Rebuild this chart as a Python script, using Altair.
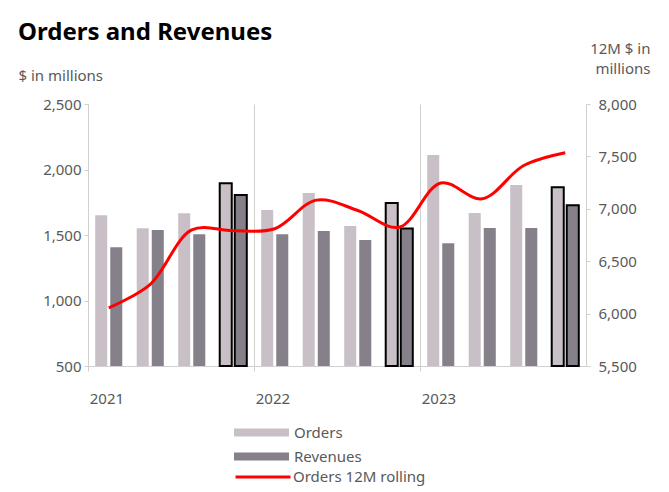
import altair as alt
import pandas as pd

quarters = ["2021 Q1", "2021 Q2", "2021 Q3", "2021 Q4",
            "2022 Q1", "2022 Q2", "2022 Q3", "2022 Q4",
            "2023 Q1", "2023 Q2", "2023 Q3", "2023 Q4"]
orders = [1650, 1551, 1666, 1895, 1691, 1821, 1569, 1745, 2111, 1668, 1882, 1865]
revenues = [1406, 1538, 1505, 1805, 1505, 1531, 1462, 1550, 1437, 1553, 1553, 1727]
rolling = [6055, 6280, 6798, 6791, 6810, 7083, 6984, 6824, 7247, 7096, 7413, 7535]
series = ["Orders", "Revenues"]
line_name = "Orders 12M rolling"
year_starts = ["2021 Q1", "2022 Q1", "2023 Q1"]

bars = pd.DataFrame({
    "q": quarters * 2,
    "series": ["Orders"] * len(quarters) + ["Revenues"] * len(quarters),
    "value": orders + revenues,
})
line = pd.DataFrame({"q": quarters, "value": rolling, "name": [line_name] * len(quarters)})

FONT = "Noto Sans"
LABEL = "#595959"
AXISC = "#d0d0d0"

xaxis = alt.Axis(values=year_starts, bandPosition=0, grid=True,
                 gridColor=AXISC, domainColor=AXISC, tickColor=AXISC,
                 tickSize=5, labelAngle=0, labelAlign="left", labelOffset=-19,
                 labelPadding=20, labelFontSize=15, labelColor=LABEL,
                 labelFont=FONT,
                 labelExpr="substring(datum.value, 0, 4)", title=None)
xscale = alt.Scale(paddingInner=0, paddingOuter=0)

bar_sym = "M-6.33,-0.53L1,-0.53L1,0.53L-6.33,0.53Z"
line_sym = "M-6.33,0L1,0"

bar_layer = alt.Chart(bars).mark_bar(strokeWidth=2).encode(
    x=alt.X("q:N", sort=quarters, scale=xscale, axis=xaxis),
    xOffset=alt.XOffset("series:N", sort=series,
                        scale=alt.Scale(paddingInner=0.2, paddingOuter=0.48)),
    y=alt.Y("value:Q", scale=alt.Scale(domain=[500, 2500], nice=False, zero=False),
            axis=alt.Axis(values=[500, 1000, 1500, 2000, 2500], format=",d",
                          grid=False, domainColor=AXISC, tickColor=AXISC, tickSize=4,
                          labelPadding=3, labelFontSize=15, labelColor=LABEL,
                          labelFont=FONT,
                          title="$ in millions", titleAngle=0, titleAlign="left",
                          titleBaseline="middle", titleX=-70, titleY=-29,
                          titleFontSize=15, titleFontWeight="normal",
                          titleColor=LABEL, titleFont=FONT)),
    y2=alt.datum(500),
    color=alt.Color("series:N", sort=series,
                    scale=alt.Scale(domain=series, range=["#c9c0c7", "#85808a"]),
                    legend=alt.Legend(orient="none", legendX=186, legendY=321,
                                      title=None, symbolType=bar_sym,
                                      symbolSize=225, symbolStrokeWidth=0,
                                      labelFontSize=15, labelColor=LABEL, labelFont=FONT,
                                      labelOffset=5, rowPadding=8)),
    stroke=alt.condition("indexof(datum.q, 'Q4') >= 0", alt.value("black"), alt.value("transparent")),
)

line_layer = alt.Chart(line).mark_line(strokeWidth=3, interpolate="catmull-rom").encode(
    x=alt.X("q:N", sort=quarters, scale=xscale, axis=xaxis),
    y=alt.Y("value:Q", scale=alt.Scale(domain=[5500, 8000], nice=False, zero=False),
            axis=alt.Axis(orient="right", values=[5500, 6000, 6500, 7000, 7500, 8000],
                          format=",d", grid=False, domainColor=AXISC, tickColor=AXISC,
                          tickSize=4, labelPadding=8, labelFontSize=15, labelColor=LABEL,
                          labelFont=FONT,
                          title=["12M $ in", "millions"], titleAngle=0, titleAlign="right",
                          titleBaseline="middle", titleX=64, titleY=-56,
                          titleLineHeight=20,
                          titleFontSize=15, titleFontWeight="normal",
                          titleColor=LABEL, titleFont=FONT)),
    stroke=alt.Stroke("name:N",
                      scale=alt.Scale(domain=[line_name], range=["#ff0000"]),
                      legend=alt.Legend(orient="none", legendX=186, legendY=364,
                                        title=None, symbolType=line_sym,
                                        symbolSize=225, symbolStrokeWidth=3,
                                        labelFontSize=15, labelColor=LABEL, labelFont=FONT,
                                        labelOffset=1)),
)

chart = alt.layer(bar_layer, line_layer).resolve_scale(
    y="independent", color="independent", stroke="independent"
).properties(
    width=498, height=262,
    autosize=alt.AutoSizeParams(type="none"),
    padding={"left": 80, "top": 96, "right": 67, "bottom": 122},
    title=alt.TitleParams("Orders and Revenues", anchor="start", fontSize=24,
                          fontWeight="bold", color="black", font=FONT, dy=8),
).configure_view(stroke=None)

chart.save("out.html", embed_options={"renderer": "svg", "actions": False})
